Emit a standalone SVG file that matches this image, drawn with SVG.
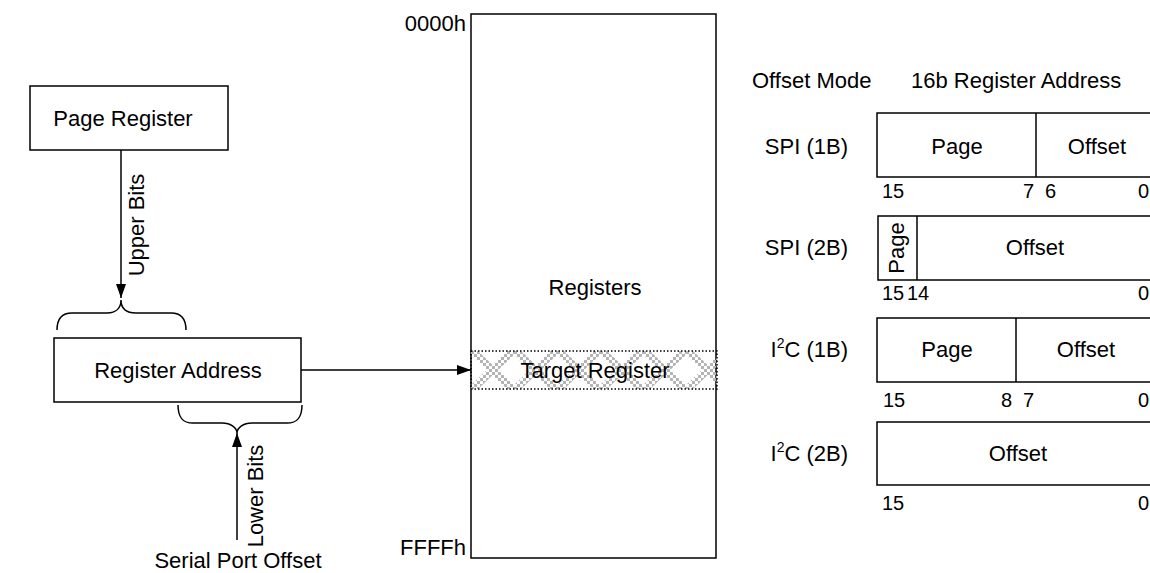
<svg xmlns="http://www.w3.org/2000/svg" width="1150" height="573" viewBox="0 0 1150 573">
<style>
text{font-family:"Liberation Sans",Arial,sans-serif;font-size:22px;fill:#000}
.box{fill:#fff;stroke:#000;stroke-width:1.5}
.ln{fill:none;stroke:#000;stroke-width:1.5}
.m{text-anchor:middle}
.e{text-anchor:end}
.b{font-size:20px}
</style>
<defs>
<marker id="ah" viewBox="0 0 14 10" refX="14" refY="5" markerWidth="14" markerHeight="10" orient="auto" markerUnits="userSpaceOnUse"><path d="M0,0L14,5L0,10z" fill="#000"/></marker>
<pattern id="chk" width="6" height="6" patternUnits="userSpaceOnUse"><rect width="3" height="3" fill="#b4b4b4"/><rect x="3" y="3" width="3" height="3" fill="#b4b4b4"/></pattern>
<pattern id="xp" x="471" y="351" width="43" height="38" patternUnits="userSpaceOnUse"><polygon points="0,0 7,0 43,34 43,38 36,38 0,4" fill="url(#chk)"/><polygon points="36,0 43,0 43,4 7,38 0,38 0,34" fill="url(#chk)"/></pattern>
</defs>

<g id="page-register"><rect class="box" x="30" y="86" width="198" height="64"/><text class="m" x="123" y="126">Page Register</text></g>
<g id="register-address"><rect class="box" x="54" y="338" width="247" height="64"/><text class="m" x="178" y="378">Register Address</text></g>
<g id="serial-port-offset"><text class="m" x="238" y="568">Serial Port Offset</text></g>

<g id="memory">
<rect class="box" x="471" y="14" width="245" height="544"/>
<text class="e" x="466" y="31">0000h</text>
<text class="e" x="466" y="555">FFFFh</text>
<text class="m" x="595" y="295">Registers</text>
</g>
<g id="target-register">
<rect x="471" y="351" width="246" height="38" fill="url(#xp)"/>
<rect x="471" y="351" width="246" height="38" fill="none" stroke="#000" stroke-width="1.5" stroke-dasharray="1.5 2"/>
<text class="m" x="595" y="378">Target Register</text>
</g>

<g id="connectors">
<line class="ln" x1="121" y1="150" x2="121" y2="298" marker-end="url(#ah)"/>
<path class="ln" d="M57,330 C57,318 62,313 72,313 L107,313 C116,313 121,308 121,300 C121,308 126,313 136,313 L171,313 C181,313 186,318 186,330"/>
<path class="ln" d="M178,405 C178,418 183,423 193,423 L222,423 C231,423 237,428 237,433 C237,428 243,423 252,423 L287,423 C297,423 302,418 302,405"/>
<line class="ln" x1="237" y1="540" x2="237" y2="433" marker-end="url(#ah)"/>
<line class="ln" x1="301" y1="370" x2="471" y2="370" marker-end="url(#ah)"/>
<text class="m" transform="translate(144,225) rotate(-90)">Upper Bits</text>
<text class="m" transform="translate(263,496) rotate(-90)">Lower Bits</text>
</g>

<g id="header">
<text x="752" y="88">Offset Mode</text>
<text x="911" y="88">16b Register Address</text>
</g>

<g id="spi-1b">
<text class="e" x="848" y="154">SPI (1B)</text>
<rect class="box" x="877" y="113" width="280" height="64"/>
<line class="ln" x1="1036" y1="113" x2="1036" y2="177"/>
<text class="m" x="957" y="154">Page</text>
<text class="m" x="1097" y="154">Offset</text>
<text class="b" x="882" y="198">15</text>
<text class="b e" x="1034" y="198">7</text>
<text class="b" x="1045" y="198">6</text>
<text class="b" x="1138" y="198">0</text>
</g>

<g id="spi-2b">
<text class="e" x="848" y="255">SPI (2B)</text>
<rect class="box" x="878" y="216" width="280" height="64"/>
<line class="ln" x1="917" y1="216" x2="917" y2="280"/>
<text class="m" transform="translate(904,248) rotate(-90)">Page</text>
<text class="m" x="1035" y="255">Offset</text>
<text class="b" x="882" y="300">15</text>
<text class="b" x="907" y="300">14</text>
<text class="b" x="1138" y="300">0</text>
</g>

<g id="i2c-1b">
<text class="e" x="848" y="357">I<tspan dy="-9" font-size="14">2</tspan><tspan dy="9">C (1B)</tspan></text>
<rect class="box" x="877" y="318" width="280" height="64"/>
<line class="ln" x1="1016" y1="318" x2="1016" y2="382"/>
<text class="m" x="947" y="357">Page</text>
<text class="m" x="1086" y="357">Offset</text>
<text class="b" x="883" y="407">15</text>
<text class="b e" x="1012" y="407">8</text>
<text class="b" x="1023" y="407">7</text>
<text class="b" x="1138" y="407">0</text>
</g>

<g id="i2c-2b">
<text class="e" x="848" y="461">I<tspan dy="-9" font-size="14">2</tspan><tspan dy="9">C (2B)</tspan></text>
<rect class="box" x="877" y="422" width="280" height="63"/>
<text class="m" x="1018" y="461">Offset</text>
<text class="b" x="882" y="510">15</text>
<text class="b" x="1138" y="510">0</text>
</g>
</svg>
